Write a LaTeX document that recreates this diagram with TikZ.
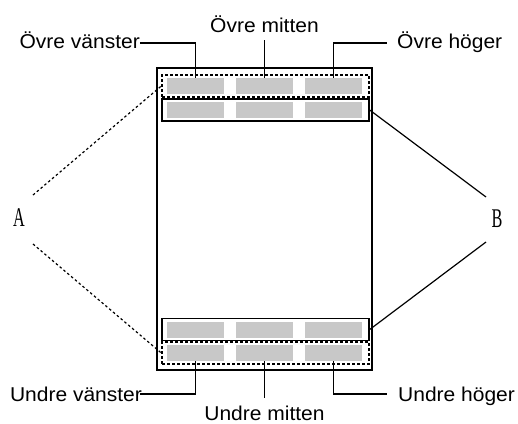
\documentclass[tikz,border=0pt]{standalone}
\usepackage{fontspec}
\setmainfont[FakeStretch=1.05]{Liberation Sans}
\newfontfamily\abfont{Liberation Serif}
\usetikzlibrary{positioning}
\definecolor{cellgray}{HTML}{C8C8C8}
\tikzset{
  cell/.style={fill=cellgray, draw=none, minimum width=57pt, minimum height=16pt, inner sep=0pt},
  dashbox/.style={draw, line width=1.4pt, dash pattern=on 3pt off 2pt, minimum width=207pt, minimum height=22pt, inner sep=0pt},
  solidbox/.style={draw, line width=1.4pt, minimum width=207pt, minimum height=22pt, inner sep=0pt},
  lbl/.style={font=\fontsize{20}{24}\selectfont, inner sep=0pt, text height=14pt, text depth=4pt},
  abl/.style={font=\abfont\fontsize{27}{30}\selectfont, inner sep=0pt, xscale=0.6},
  leader/.style={line width=1.2pt},
  dotleader/.style={line width=1.2pt, dash pattern=on 2.5pt off 2.5pt},
}
\begin{document}
\begin{tikzpicture}[x=1pt,y=-1pt]
\useasboundingbox (0,0) rectangle (518,423);
% page
\node[draw, line width=1.7pt, minimum width=215pt, minimum height=302pt, inner sep=0pt] (page) at (264.5,219) {};
% top rows
\node[dashbox] (tdash) at (265.5,86) {};
\node[solidbox] (tsol) at (265.5,110) {};
\node[cell] (t1) at (195.5,86) {};
\node[cell] (t2) at (264.5,86) {};
\node[cell] (t3) at (333.5,86) {};
\node[cell] (u1) at (195.5,109.5) {};
\node[cell] (u2) at (264.5,109.5) {};
\node[cell] (u3) at (333.5,109.5) {};
% bottom rows
\node[solidbox] (bsol) at (265.5,329.5) {};
\node[dashbox] (bdash) at (265.5,353) {};
\node[cell] (v1) at (195.5,330) {};
\node[cell] (v2) at (264.5,330) {};
\node[cell] (v3) at (333.5,330) {};
\node[cell] (b1) at (195.5,353) {};
\node[cell] (b2) at (264.5,353) {};
\node[cell] (b3) at (333.5,353) {};
% labels
\node[lbl, anchor=east] (ovl) at (140,43) {Övre vänster};
\node[lbl, anchor=south, inner ysep=3pt] (om) at (264.5,40) {Övre mitten};
\node[lbl, anchor=west] (oh) at (397,43) {Övre höger};
\coordinate (ohend) at (387,43);
\node[lbl, anchor=north, inner ysep=0pt] (ul) at (76,387) {Undre vänster};
\coordinate (ulend) at (140,394);
\node[lbl, anchor=north, inner ysep=8pt] (um) at (264.5,398) {Undre mitten};
\node[lbl, anchor=west] (uh) at (398,396) {Undre höger};
\coordinate (uhend) at (387,394);
% leaders
\draw[leader] (t1.north) |- (ovl.east);
\draw[leader] (t2.north) -- (om.south);
\draw[leader] (t3.north) |- (ohend);
\draw[leader] (b1.south) |- (ulend);
\draw[leader] (b2.south) -- (um.north);
\draw[leader] (b3.south) |- (uhend);
% A and B
\node[abl] (A) at (19,218) {A};
\node[abl] (B) at (497,219) {B};
\coordinate (Atop) at (33,195);
\coordinate (Abot) at (33,244);
\coordinate (Btop) at (486,197);
\coordinate (Bbot) at (486,242);
\draw[dotleader] (Atop) -- (tdash.west);
\draw[dotleader] (Abot) -- (bdash.west);
\draw[leader] (Btop) -- (tsol.east);
\draw[leader] (Bbot) -- (bsol.east);
\end{tikzpicture}
\end{document}
